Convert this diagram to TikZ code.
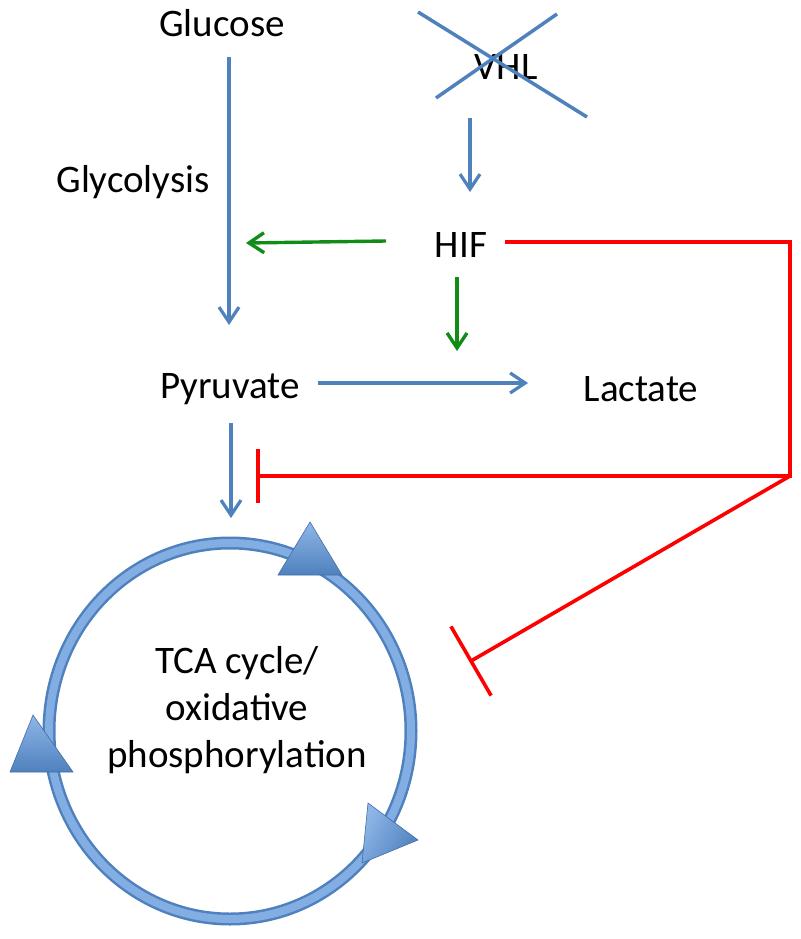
\documentclass[tikz,border=0pt]{standalone}
\usepackage{fontspec}
\setmainfont{Carlito}
\usetikzlibrary{arrows.meta,calc}

\definecolor{pathblue}{HTML}{4F81BD}
\definecolor{ringblue}{HTML}{83AEE3}
\definecolor{trilight}{HTML}{8FB6E8}
\definecolor{actgreen}{HTML}{128C17}
\definecolor{inhred}{HTML}{FF0000}

\tikzset{
  lbl/.style={font=\fontsize{39}{47}\selectfont, inner sep=0pt, anchor=base},
  flow/.style={pathblue, line width=3.2pt, -{Straight Barb[length=15pt,width=20pt]}},
  act/.style={actgreen, line width=3.4pt, -{Straight Barb[length=15pt,width=20pt]}},
  inh/.style={inhred, line width=3.6pt},
  tri/.style={top color=trilight, bottom color=pathblue, draw=pathblue!85!black, line width=0.6pt},
}

\begin{document}
\begin{tikzpicture}[x=1pt,y=-1pt]
\useasboundingbox (0,0) rectangle (800,939);
% metabolites:
\node[lbl] (glucose) at (222,37) {Glucose};
\node[lbl] (glycolysis) at (133,192) {Glycolysis};
\node[lbl] (vhl) at (506,80) {VHL};
\node[lbl] (hif) at (461,257) {HIF};
\node[lbl] (pyruvate) at (230,398) {Pyruvate};
\node[lbl] (lactate) at (641,401) {Lactate};
\node[lbl, align=center] (tca) at (237,767) {TCA cycle/\\oxidative\\phosphorylation};
% arrow ends:
\coordinate (glc-out) at (229,57);
\coordinate (pyr-in) at (229,325);
\coordinate (vhl-out) at (470,118);
\coordinate (hif-in) at (470,192);
\coordinate (hif-west) at (386,241);
\coordinate (gly-in) at (246,243);
\coordinate (hif-south) at (457,277);
\coordinate (lac-in) at (457,351);
\coordinate (pyr-east) at (318,383);
\coordinate (lac-west) at (528,383);
\coordinate (pyr-south) at (231,423);
\coordinate (tca-in) at (231,518);
\coordinate (hif-east) at (505,242);
\coordinate (corner) at (790,242);
\coordinate (branch) at (790,476);
\coordinate (block-a) at (258,476);
\coordinate (block-b) at (471,661);
% VHL knocked out:
\draw[pathblue, line width=3.5pt] (418,12) -- (587,117);
\draw[pathblue, line width=3.5pt] (436,98) -- (557,14);
% pathway arrows:
\draw[flow] (glc-out) -- (pyr-in);
\draw[flow] (vhl-out) -- (hif-in);
\draw[flow] (pyr-east) -- (lac-west);
\draw[flow] (pyr-south) -- (tca-in);
\draw[act] (hif-west) -- (gly-in);
\draw[act] (hif-south) -- (lac-in);
% inhibition:
\draw[inh, line join=miter] (hif-east) -- (corner) -- (branch) -- (block-a);
\draw[inh] (branch) -- (block-b);
\draw[inh] ([yshift=-27pt]block-a) -- ([yshift=27pt]block-a);
\draw[inh] ($(block-b)!40pt!90:(branch)$) -- ($(block-b)!40pt!-90:(branch)$);
% TCA ring:
\draw[pathblue, line width=13pt] (230,731) ellipse [x radius=181, y radius=188];
\draw[ringblue, line width=8pt] (230,731) ellipse [x radius=181, y radius=188];
\shade[tri] (278,575) -- (342,575) -- (310,522) -- cycle;
\shade[tri] (10,772) -- (73,772) -- (33,715) -- cycle;
\shade[tri, shading angle=60] (368,803) -- (418,840) -- (362,863) -- cycle;
\end{tikzpicture}
\end{document}
